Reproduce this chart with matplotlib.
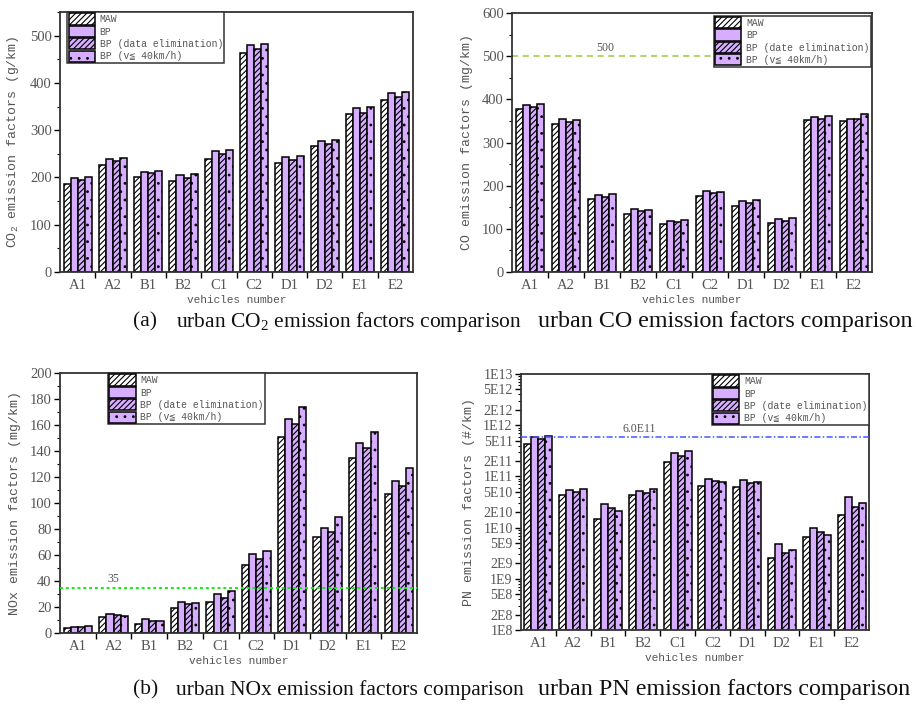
import numpy as np
import matplotlib
matplotlib.use("Agg")
import matplotlib.pyplot as plt
from matplotlib.patches import Patch
from matplotlib.ticker import FixedLocator, MultipleLocator, NullFormatter, LogLocator

# ---- data -------------------------------------------------------------
vehicles = ["A1", "A2", "B1", "B2", "C1", "C2", "D1", "D2", "E1", "E2"]

co2_maw = [187, 227, 202, 193, 240, 463, 231, 266, 334, 364]
co2_bp = [199, 239, 212, 206, 255, 480, 243, 278, 346, 379]
co2_bp_elim = [194, 234, 209, 199, 249, 471, 236, 271, 337, 370]
co2_bp_v40 = [201, 242, 213, 208, 258, 482, 245, 280, 350, 381]

co_maw = [377, 343, 169, 135, 112, 175, 153, 114, 352, 349]
co_bp = [387, 354, 178, 145, 118, 187, 165, 123, 358, 355]
co_bp_elim = [383, 348, 173, 142, 115, 183, 160, 118, 355, 354]
co_bp_v40 = [389, 352, 181, 143, 121, 185, 167, 125, 362, 365]

nox_maw = [3.5, 12, 7, 19, 24, 52.5, 151, 74, 135, 107]
nox_bp = [5, 15, 10.5, 24, 30, 61, 165, 81, 146, 117]
nox_bp_elim = [4.5, 13.5, 9, 22, 27, 57, 161, 78, 142, 113]
nox_bp_v40 = [5.5, 13, 9.5, 23, 32, 63, 174, 89, 155, 127]

pn_maw = [4.3e11, 4.4e10, 1.45e10, 4.4e10, 1.92e11, 6.4e10, 6.2e10, 2.6e9, 6.6e9, 1.74e10]
pn_bp = [5.9e11, 5.4e10, 2.9e10, 5.3e10, 2.9e11, 8.7e10, 8.5e10, 4.7e9, 9.7e9, 3.9e10]
pn_bp_elim = [5.3e11, 4.9e10, 2.45e10, 4.8e10, 2.55e11, 8.0e10, 7.5e10, 3.2e9, 8.1e9, 2.56e10]
pn_bp_v40 = [6.2e11, 5.6e10, 2.1e10, 5.7e10, 3.1e11, 7.7e10, 7.7e10, 3.6e9, 7.3e9, 3.0e10]

co_limit = 500
nox_limit = 35
pn_limit = 6.0e11

pn_ticks = [1e8, 2e8, 5e8, 1e9, 2e9, 5e9, 1e10, 2e10, 5e10,
            1e11, 2e11, 5e11, 1e12, 2e12, 5e12, 1e13]
pn_tick_labels = ["1E8", "2E8", "5E8", "1E9", "2E9", "5E9", "1E10", "2E10", "5E10",
                  "1E11", "2E11", "5E11", "1E12", "2E12", "5E12", "1E13"]

# ---- style ------------------------------------------------------------
LAV = "#d6adff"
TXT = "#555555"
MONO = ["Liberation Mono", "DejaVu Sans Mono", "DejaVu Sans"]
SERIF = ["Liberation Serif", "DejaVu Serif"]
plt.rcParams["hatch.linewidth"] = 0.8
plt.rcParams["axes.linewidth"] = 1.3

W, H = 916, 708
fig = plt.figure(figsize=(W / 100, H / 100), dpi=100)


def px_axes(left, right, top, bottom):
    return fig.add_axes([left / W, (H - bottom) / H, (right - left) / W, (bottom - top) / H])


series_style = [
    dict(facecolor="white", hatch="//////"),
    dict(facecolor=LAV, hatch=None),
    dict(facecolor=LAV, hatch="//////"),
    dict(facecolor=LAV, hatch=".."),
]


def draw_panel(ax, series, labels, ylabel, legend_loc, legend_anchor):
    x = np.arange(len(vehicles))
    bw = 0.2
    for i, vals in enumerate(series):
        st = series_style[i]
        ax.bar(x + (i - 1.5) * bw, vals, width=bw, color=st["facecolor"],
               edgecolor="black", linewidth=1.1, hatch=st["hatch"])
    ax.set_xlim(-0.5, len(vehicles) - 0.5)
    ax.set_xticks(x)
    ax.set_xticklabels(vehicles, fontfamily=SERIF, fontsize=10.5, color=TXT)
    ax.tick_params(axis="x", which="major", length=0, pad=5)
    ax.xaxis.set_minor_locator(FixedLocator(x[:-1] + 0.5))
    ax.tick_params(axis="x", which="minor", length=4, width=1.0, direction="out")
    ax.tick_params(axis="y", which="major", length=4, width=1.0, direction="out",
                   labelsize=10.5, labelcolor=TXT, pad=2)
    ax.tick_params(axis="y", which="minor", length=2.5, width=0.8, direction="out")
    for sp in ax.spines.values():
        sp.set_color("#333333")
    ax.set_ylabel(ylabel, fontfamily=MONO, fontsize=9.5, color=TXT, labelpad=6)
    ax.set_xlabel("vehicles number", fontfamily=MONO, fontsize=8, color=TXT, labelpad=2)

    handles = [Patch(facecolor=st["facecolor"], edgecolor="black", linewidth=1.1,
                     hatch=st["hatch"]) for st in series_style]
    leg = ax.legend(handles, labels, loc=legend_loc, bbox_to_anchor=legend_anchor,
                    prop={"family": MONO, "size": 7}, frameon=True, fancybox=False,
                    edgecolor="#333333", framealpha=1, handlelength=2.7,
                    handleheight=1.4, labelspacing=0.12, borderpad=0.15,
                    handletextpad=0.5, borderaxespad=0)
    leg.get_frame().set_linewidth(1.1)
    for t in leg.get_texts():
        t.set_color(TXT)


labels_a = ["MAW", "BP", "BP (data elimination)", "BP (v\u2266 40km/h)"]
labels_b = ["MAW", "BP", "BP (date elimination)", "BP (v\u2266 40km/h)"]

# CO2
ax1 = px_axes(60, 413, 12, 272)
draw_panel(ax1, [co2_maw, co2_bp, co2_bp_elim, co2_bp_v40], labels_a,
           "CO$_\\mathregular{2}$ emission factors (g/km)", "upper left", (0.02, 1.0))
ax1.set_ylim(0, 550)
ax1.yaxis.set_major_locator(MultipleLocator(100))
ax1.yaxis.set_minor_locator(MultipleLocator(50))
for lab in ax1.get_yticklabels():
    lab.set_fontfamily(SERIF)

# CO
ax2 = px_axes(512, 872, 13, 272)
draw_panel(ax2, [co_maw, co_bp, co_bp_elim, co_bp_v40], labels_b,
           "CO emission factors (mg/km)", "upper right", (0.997, 0.99))
ax2.set_ylim(0, 600)
ax2.yaxis.set_major_locator(MultipleLocator(100))
ax2.yaxis.set_minor_locator(MultipleLocator(50))
ax2.axhline(co_limit, color="#9acd32", linestyle=(0, (4, 3)), linewidth=1.1, zorder=0.5)
ax2.text(2.1, co_limit + 4, f"{co_limit}", ha="center", va="bottom",
         fontfamily=SERIF, fontsize=8.5, color=TXT)
for lab in ax2.get_yticklabels():
    lab.set_fontfamily(SERIF)

# NOx
ax3 = px_axes(60, 417, 373, 633)
draw_panel(ax3, [nox_maw, nox_bp, nox_bp_elim, nox_bp_v40], labels_b,
           "NOx emission factors (mg/km)", "upper left", (0.134, 1.0))
ax3.set_ylim(0, 200)
ax3.yaxis.set_major_locator(MultipleLocator(20))
ax3.yaxis.set_minor_locator(MultipleLocator(10))
ax3.axhline(nox_limit, color="#11ee11", linestyle=(0, (1.5, 1.5)), linewidth=1.4, zorder=3)
ax3.text(1.0, nox_limit + 2, f"{nox_limit}", ha="center", va="bottom",
         fontfamily=SERIF, fontsize=8.5, color=TXT)
for lab in ax3.get_yticklabels():
    lab.set_fontfamily(SERIF)

# PN (log scale)
ax4 = px_axes(521, 869, 374, 630)
ax4.set_yscale("log")
draw_panel(ax4, [pn_maw, pn_bp, pn_bp_elim, pn_bp_v40], labels_b,
           "PN emission factors (#/km)", "upper right", (1.0, 1.0))
ax4.set_ylim(1e8, 1e13)
ax4.yaxis.set_major_locator(FixedLocator(pn_ticks))
ax4.set_yticklabels(pn_tick_labels, fontfamily=SERIF, fontsize=10, color=TXT)
ax4.yaxis.set_minor_locator(LogLocator(base=10, subs=np.arange(2, 10), numticks=20))
ax4.yaxis.set_minor_formatter(NullFormatter())
ax4.axhline(pn_limit, color="#4455ff", linestyle=(0, (4, 1.5, 1, 1.5)), linewidth=1.1, zorder=3)
ax4.text(2.9, pn_limit * 1.08, "6.0E11", ha="center", va="bottom",
         fontfamily=SERIF, fontsize=8.5, color=TXT)

# ---- captions ---------------------------------------------------------
cap_l = dict(fontfamily=SERIF, fontsize=15.5, color="#111111", va="center", ha="left")
cap_r = dict(fontfamily=SERIF, fontsize=17.3, color="#111111", va="center", ha="left")
fig.text(133 / W, 1 - 322 / H, "(a)", **cap_l)
fig.text(176 / W, 1 - 322 / H, "urban CO$_\\mathregular{2}$ emission factors comparison", **cap_l)
fig.text(538 / W, 1 - 322 / H, "urban CO emission factors comparison", **cap_r)
fig.text(133 / W, 1 - 690 / H, "(b)", **cap_l)
fig.text(176 / W, 1 - 690 / H, "urban NOx emission factors comparison", **cap_l)
fig.text(538 / W, 1 - 690 / H, "urban PN emission factors comparison", **cap_r)

fig.savefig("out.png", dpi=100)
